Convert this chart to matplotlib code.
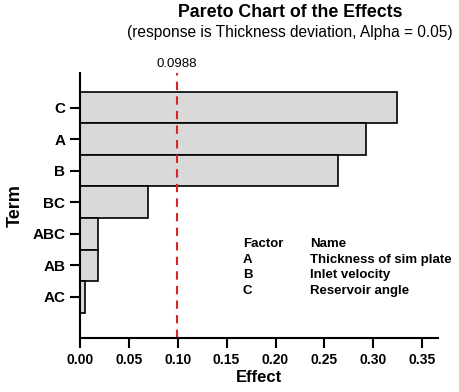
import matplotlib.pyplot as plt
import numpy as np

plt.rcParams["font.family"] = ["Liberation Sans", "DejaVu Sans"]

terms = ["C", "A", "B", "BC", "ABC", "AB", "AC"]
effects = [0.324, 0.293, 0.264, 0.0695, 0.0185, 0.019, 0.005]
ref_value = 0.0988
factors = ["A", "B", "C"]
factor_names = ["Thickness of sim plate", "Inlet velocity", "Reservoir angle"]
x_ticks = [0.00, 0.05, 0.10, 0.15, 0.20, 0.25, 0.30, 0.35]

fig = plt.figure(figsize=(4.59, 3.92), dpi=100)
ax = fig.add_axes([0.174, 0.138, 0.780, 0.676])

pos = np.arange(len(terms))[::-1]
ax.barh(pos, effects, height=1.0, color="#d9d9d9", edgecolor="black", linewidth=1.2)
ax.axvline(ref_value, color="#d62728", linestyle=(0, (4, 3)), linewidth=1.5)

ax.set_xlim(0, 0.366)
ax.set_ylim(-1.3, 7.1)
ax.set_yticks(pos)
ax.set_yticklabels(terms, fontweight="bold", fontsize=11)
ax.set_xticks(x_ticks)
ax.set_xticklabels([f"{v:.2f}" for v in x_ticks], fontweight="bold", fontsize=10)
ax.tick_params(axis="both", direction="out", length=7, width=1.5)
ax.tick_params(axis="x", pad=4)
for s in ["top", "right"]:
    ax.spines[s].set_visible(False)
for s in ["left", "bottom"]:
    ax.spines[s].set_linewidth(1.5)

ax.set_xlabel("Effect", fontweight="bold", fontsize=12, labelpad=2)
ax.set_ylabel("Term", fontweight="bold", fontsize=13, labelpad=6)

fig.text(0.632, 0.967, "Pareto Chart of the Effects", ha="center", va="center",
         fontsize=12.8, fontweight="bold")
fig.text(0.632, 0.917, "(response is Thickness deviation, Alpha = 0.05)", ha="center",
         va="center", fontsize=11.2)
ax.text(ref_value, 1.035, f"{ref_value}", transform=ax.get_xaxis_transform(),
        ha="center", va="center", fontsize=9.5)

# factor key
ax.text(0.455, 0.355, "Factor", transform=ax.transAxes, fontsize=9.5,
        fontweight="bold", va="center")
ax.text(0.642, 0.355, "Name", transform=ax.transAxes, fontsize=9.5,
        fontweight="bold", va="center")
for i, (f, n) in enumerate(zip(factors, factor_names)):
    y = 0.355 - 0.0595 * (i + 1)
    ax.text(0.455, y, f, transform=ax.transAxes, fontsize=9.5, fontweight="bold", va="center")
    ax.text(0.642, y, n, transform=ax.transAxes, fontsize=9.5, fontweight="bold", va="center")

fig.savefig("out.png", dpi=100)
